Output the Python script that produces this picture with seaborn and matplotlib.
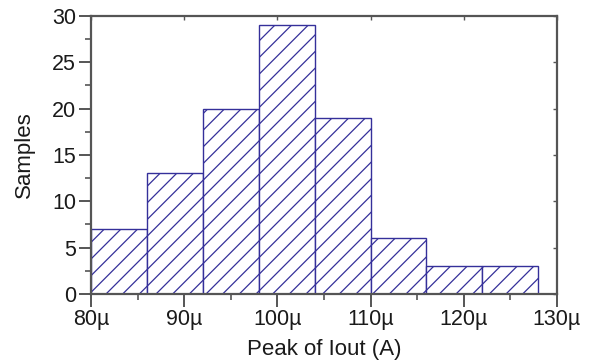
import numpy as np
import pandas as pd
import matplotlib
matplotlib.use("Agg")
import matplotlib.pyplot as plt
import seaborn as sns
from matplotlib.ticker import MultipleLocator, FixedLocator, FixedFormatter

# Histogram of the peak output current (in µA), 6 µA bins
bin_edges = [80, 86, 92, 98, 104, 110, 116, 122, 128]
bin_counts = [7, 13, 20, 29, 19, 6, 3, 3]
x_ticks = [80, 90, 100, 110, 120, 130]
x_tick_labels = ["80µ", "90µ", "100µ", "110µ", "120µ", "130µ"]
y_ticks = [0, 5, 10, 15, 20, 25, 30]

sns.set_theme(style="white")
plt.rcParams["font.family"] = ["Liberation Sans", "DejaVu Sans"]
plt.rcParams["hatch.linewidth"] = 0.9
plt.rcParams["hatch.color"] = "#35309a"

bar_color = "#35309a"
axis_color = "#555555"
text_color = "#1a1a1a"

centers = [(a + b) / 2 for a, b in zip(bin_edges[:-1], bin_edges[1:])]
df = pd.DataFrame({"peak": centers, "count": bin_counts})

fig = plt.figure(figsize=(6.0, 3.62), dpi=100)
ax = fig.add_axes([0.152, 0.188, 0.776, 0.768])

sns.histplot(data=df, x="peak", weights="count", bins=bin_edges, ax=ax,
             stat="count", element="bars", fill=True, facecolor="white",
             edgecolor=bar_color, hatch="//", linewidth=1.0, alpha=1.0)

ax.set_xlim(80, 130)
ax.set_ylim(0, 30)
ax.xaxis.set_major_locator(FixedLocator(x_ticks))
ax.xaxis.set_major_formatter(FixedFormatter(x_tick_labels))
ax.xaxis.set_minor_locator(MultipleLocator(5))
ax.yaxis.set_major_locator(FixedLocator(y_ticks))
ax.yaxis.set_minor_locator(MultipleLocator(2.5))

ax.tick_params(axis="both", which="major", direction="out", length=9,
               width=1.4, color=axis_color, labelsize=15.5, labelcolor=text_color,
               pad=2, bottom=True, left=True)
ax.tick_params(axis="both", which="minor", direction="out", length=4.5,
               width=1.2, color=axis_color, bottom=True, left=True)

for side in ["left", "bottom", "top", "right"]:
    ax.spines[side].set_visible(True)
    ax.spines[side].set_color(axis_color)
    ax.spines[side].set_linewidth(1.6)

# Inward major ticks on the top and right frame
top = ax.secondary_xaxis("top")
top.xaxis.set_major_locator(FixedLocator(x_ticks))
top.tick_params(direction="in", length=3, width=1.0, color=axis_color, labeltop=False)
top.spines["top"].set_visible(False)
right = ax.secondary_yaxis("right")
right.yaxis.set_major_locator(FixedLocator(y_ticks))
right.tick_params(direction="in", length=3, width=1.0, color=axis_color, labelright=False)
right.spines["right"].set_visible(False)

ax.set_xlabel("Peak of Iout (A)", fontsize=16, color=text_color, labelpad=6)
ax.set_ylabel("Samples", fontsize=16, color=text_color, labelpad=12)

fig.savefig("out.png", dpi=100)
